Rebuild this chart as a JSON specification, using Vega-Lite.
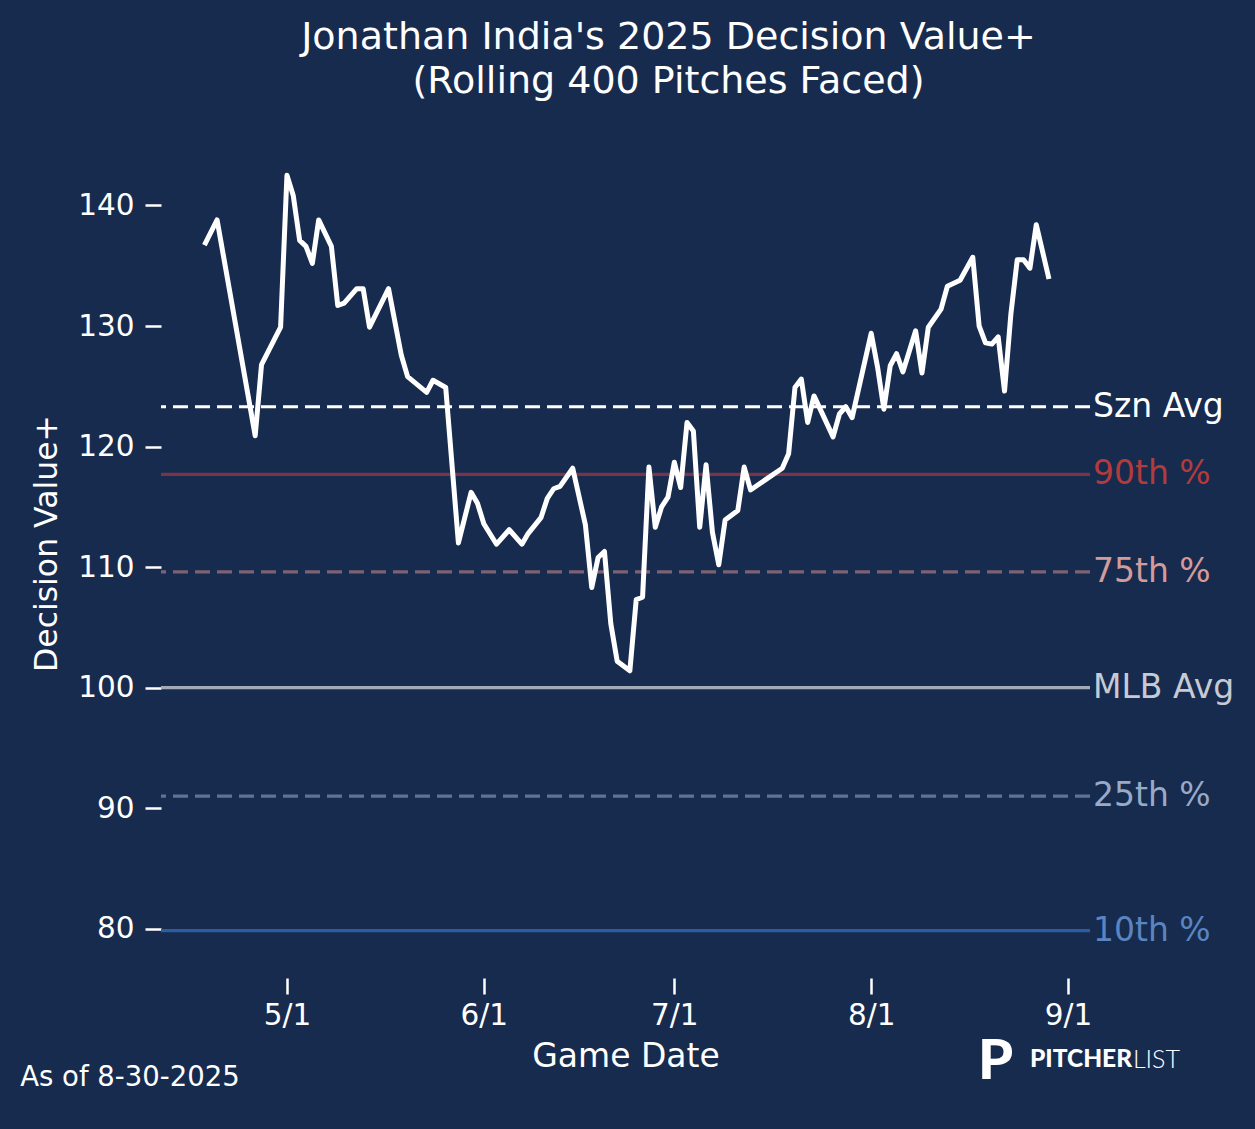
{
  "$schema": "https://vega.github.io/schema/vega-lite/v6.json",
  "autosize": {"type": "none"},
  "width": 929,
  "height": 868,
  "padding": {"left": 161, "top": 109, "right": 165, "bottom": 152},
  "background": "#172b4f",
  "config": {
    "font": "DejaVu Sans",
    "view": {"stroke": null}
  },
  "title": {
    "text": ["Jonathan India's 2025 Decision Value+", "(Rolling 400 Pitches Faced)"],
    "fontSize": 38,
    "fontWeight": "normal",
    "color": "white",
    "lineHeight": 44,
    "anchor": "middle",
    "dx": 43,
    "offset": 8
  },
  "datasets": {
    "rolling": [
      {"date": "2025-04-18", "dv": 136.7},
      {"date": "2025-04-20", "dv": 138.8},
      {"date": "2025-04-26", "dv": 120.9},
      {"date": "2025-04-27", "dv": 126.8},
      {"date": "2025-04-30", "dv": 129.9},
      {"date": "2025-05-01", "dv": 142.5},
      {"date": "2025-05-02", "dv": 140.8},
      {"date": "2025-05-03", "dv": 137.1},
      {"date": "2025-05-04", "dv": 136.6},
      {"date": "2025-05-05", "dv": 135.2},
      {"date": "2025-05-06", "dv": 138.8},
      {"date": "2025-05-08", "dv": 136.6},
      {"date": "2025-05-09", "dv": 131.7},
      {"date": "2025-05-10", "dv": 131.9},
      {"date": "2025-05-12", "dv": 133.1},
      {"date": "2025-05-13", "dv": 133.1},
      {"date": "2025-05-14", "dv": 129.9},
      {"date": "2025-05-17", "dv": 133.1},
      {"date": "2025-05-19", "dv": 127.6},
      {"date": "2025-05-20", "dv": 125.8},
      {"date": "2025-05-23", "dv": 124.5},
      {"date": "2025-05-24", "dv": 125.5},
      {"date": "2025-05-26", "dv": 124.9},
      {"date": "2025-05-28", "dv": 112.0},
      {"date": "2025-05-30", "dv": 116.2},
      {"date": "2025-05-31", "dv": 115.3},
      {"date": "2025-06-01", "dv": 113.6},
      {"date": "2025-06-03", "dv": 111.9},
      {"date": "2025-06-05", "dv": 113.1},
      {"date": "2025-06-07", "dv": 111.9},
      {"date": "2025-06-08", "dv": 112.8},
      {"date": "2025-06-10", "dv": 114.1},
      {"date": "2025-06-11", "dv": 115.7},
      {"date": "2025-06-12", "dv": 116.5},
      {"date": "2025-06-13", "dv": 116.7},
      {"date": "2025-06-15", "dv": 118.2},
      {"date": "2025-06-17", "dv": 113.5},
      {"date": "2025-06-18", "dv": 108.3},
      {"date": "2025-06-19", "dv": 110.8},
      {"date": "2025-06-20", "dv": 111.3},
      {"date": "2025-06-21", "dv": 105.3},
      {"date": "2025-06-22", "dv": 102.2},
      {"date": "2025-06-24", "dv": 101.4},
      {"date": "2025-06-25", "dv": 107.3},
      {"date": "2025-06-26", "dv": 107.5},
      {"date": "2025-06-27", "dv": 118.3},
      {"date": "2025-06-28", "dv": 113.3},
      {"date": "2025-06-29", "dv": 115.0},
      {"date": "2025-06-30", "dv": 115.8},
      {"date": "2025-07-01", "dv": 118.7},
      {"date": "2025-07-02", "dv": 116.6},
      {"date": "2025-07-03", "dv": 122.0},
      {"date": "2025-07-04", "dv": 121.3},
      {"date": "2025-07-05", "dv": 113.3},
      {"date": "2025-07-06", "dv": 118.5},
      {"date": "2025-07-07", "dv": 112.9},
      {"date": "2025-07-08", "dv": 110.2},
      {"date": "2025-07-09", "dv": 113.9},
      {"date": "2025-07-11", "dv": 114.7},
      {"date": "2025-07-12", "dv": 118.3},
      {"date": "2025-07-13", "dv": 116.4},
      {"date": "2025-07-18", "dv": 118.2},
      {"date": "2025-07-19", "dv": 119.4},
      {"date": "2025-07-20", "dv": 124.9},
      {"date": "2025-07-21", "dv": 125.6},
      {"date": "2025-07-22", "dv": 122.0},
      {"date": "2025-07-23", "dv": 124.2},
      {"date": "2025-07-26", "dv": 120.8},
      {"date": "2025-07-27", "dv": 122.7},
      {"date": "2025-07-28", "dv": 123.3},
      {"date": "2025-07-29", "dv": 122.4},
      {"date": "2025-08-01", "dv": 129.4},
      {"date": "2025-08-02", "dv": 126.6},
      {"date": "2025-08-03", "dv": 123.1},
      {"date": "2025-08-04", "dv": 126.7},
      {"date": "2025-08-05", "dv": 127.7},
      {"date": "2025-08-06", "dv": 126.2},
      {"date": "2025-08-08", "dv": 129.6},
      {"date": "2025-08-09", "dv": 126.1},
      {"date": "2025-08-10", "dv": 129.9},
      {"date": "2025-08-12", "dv": 131.4},
      {"date": "2025-08-13", "dv": 133.3},
      {"date": "2025-08-15", "dv": 133.8},
      {"date": "2025-08-17", "dv": 135.7},
      {"date": "2025-08-18", "dv": 130.0},
      {"date": "2025-08-19", "dv": 128.6},
      {"date": "2025-08-20", "dv": 128.5},
      {"date": "2025-08-21", "dv": 129.1},
      {"date": "2025-08-22", "dv": 124.6},
      {"date": "2025-08-23", "dv": 131.0},
      {"date": "2025-08-24", "dv": 135.5},
      {"date": "2025-08-25", "dv": 135.5},
      {"date": "2025-08-26", "dv": 134.8},
      {"date": "2025-08-27", "dv": 138.4},
      {"date": "2025-08-29", "dv": 133.9}
    ],
    "refs": [
      {"label": "Szn Avg", "dv": 123.3},
      {"label": "90th %", "dv": 117.7},
      {"label": "75th %", "dv": 109.6},
      {"label": "MLB Avg", "dv": 100.0},
      {"label": "25th %", "dv": 91.0},
      {"label": "10th %", "dv": 79.85}
    ],
    "blank": [{}]
  },
  "layer": [
    {
      "data": {"name": "refs"},
      "mark": {"type": "rule", "strokeWidth": 3.2},
      "encoding": {
        "y": {"field": "dv", "type": "quantitative"},
        "stroke": {
          "field": "label",
          "type": "nominal",
          "legend": null,
          "scale": {
            "domain": ["Szn Avg", "90th %", "75th %", "MLB Avg", "25th %", "10th %"],
            "range": ["#ffffff", "#7a3447", "#7c6273", "#a3a9b5", "#5d7495", "#2b5da0"]
          }
        },
        "strokeDash": {
          "field": "label",
          "type": "nominal",
          "legend": null,
          "scale": {
            "domain": ["Szn Avg", "90th %", "75th %", "MLB Avg", "25th %", "10th %"],
            "range": [[15, 7], [1, 0], [15, 7], [1, 0], [15, 7], [1, 0]]
          }
        }
      }
    },
    {
      "data": {"name": "rolling"},
      "mark": {"type": "line", "color": "white", "strokeWidth": 5, "strokeJoin": "round"},
      "encoding": {
        "x": {
          "field": "date",
          "type": "temporal",
          "title": "Game Date",
          "scale": {
            "type": "utc",
            "domain": [
              {"year": 2025, "month": 4, "date": 11, "hours": 4, "utc": true},
              {"year": 2025, "month": 9, "date": 4, "hours": 11, "utc": true}
            ]
          },
          "axis": {
            "values": [
              {"year": 2025, "month": 5, "date": 1, "utc": true},
              {"year": 2025, "month": 6, "date": 1, "utc": true},
              {"year": 2025, "month": 7, "date": 1, "utc": true},
              {"year": 2025, "month": 8, "date": 1, "utc": true},
              {"year": 2025, "month": 9, "date": 1, "utc": true}
            ],
            "format": "%-m/%-d",
            "domain": false,
            "grid": false,
            "offset": 1,
            "tickSize": 16,
            "tickWidth": 2.5,
            "tickColor": "white",
            "labelColor": "white",
            "labelFontSize": 29.5,
            "labelPadding": 7,
            "titleColor": "white",
            "titleFontSize": 33,
            "titleFontWeight": "normal",
            "titlePadding": 11
          }
        },
        "y": {
          "field": "dv",
          "type": "quantitative",
          "title": "Decision Value+",
          "scale": {"domain": [76, 148], "nice": false, "zero": false},
          "axis": {
            "values": [80, 90, 100, 110, 120, 130, 140],
            "domain": false,
            "grid": false,
            "tickSize": 16,
            "tickWidth": 2.5,
            "tickColor": "white",
            "labelColor": "white",
            "labelFontSize": 29.5,
            "labelPadding": 11,
            "titleColor": "white",
            "titleFontSize": 31.5,
            "titleFontWeight": "normal",
            "titlePadding": 14
          }
        }
      }
    },
    {
      "data": {"name": "refs"},
      "mark": {"type": "text", "align": "left", "baseline": "middle", "dx": 3, "fontSize": 33},
      "encoding": {
        "x": {"datum": {"year": 2025, "month": 9, "date": 4, "hours": 11, "utc": true}, "type": "temporal"},
        "y": {"field": "dv", "type": "quantitative"},
        "text": {"field": "label"},
        "fill": {
          "field": "label",
          "type": "nominal",
          "legend": null,
          "scale": {
            "domain": ["Szn Avg", "90th %", "75th %", "MLB Avg", "25th %", "10th %"],
            "range": ["#ffffff", "#b23b3c", "#d49b9b", "#c6cad3", "#97abc9", "#5a85c0"]
          }
        }
      }
    },
    {
      "data": {"name": "blank"},
      "mark": {"type": "text", "align": "left", "baseline": "middle", "fontSize": 27.5, "color": "white"},
      "encoding": {
        "x": {"datum": {"year": 2025, "month": 3, "date": 20, "utc": true}, "type": "temporal"},
        "y": {"datum": 67.6, "type": "quantitative"},
        "text": {"value": "As of 8-30-2025"}
      }
    },
    {
      "data": {"name": "blank"},
      "mark": {"type": "text", "align": "left", "baseline": "middle", "fontSize": 24.5, "font": "Lato", "fontWeight": 900, "letterSpacing": 1, "color": "white"},
      "encoding": {
        "x": {"datum": {"year": 2025, "month": 8, "date": 26, "utc": true}, "type": "temporal"},
        "y": {"datum": 69.1, "type": "quantitative"},
        "text": {"value": "PITCHER"}
      }
    },
    {
      "data": {"name": "blank"},
      "mark": {"type": "text", "align": "left", "baseline": "middle", "fontSize": 25, "font": "Lato", "fontWeight": 300, "letterSpacing": 6, "dx": 103, "color": "white"},
      "encoding": {
        "x": {"datum": {"year": 2025, "month": 8, "date": 26, "utc": true}, "type": "temporal"},
        "y": {"datum": 69.1, "type": "quantitative"},
        "text": {"value": "LIST"}
      }
    },
    {
      "data": {"name": "blank"},
      "mark": {"type": "text", "align": "left", "baseline": "middle", "fontSize": 56, "font": "Lato", "fontWeight": 900, "dx": -52, "dy": 2, "color": "white"},
      "encoding": {
        "x": {"datum": {"year": 2025, "month": 8, "date": 26, "utc": true}, "type": "temporal"},
        "y": {"datum": 69.1, "type": "quantitative"},
        "text": {"value": "P"}
      }
    }
  ]
}
